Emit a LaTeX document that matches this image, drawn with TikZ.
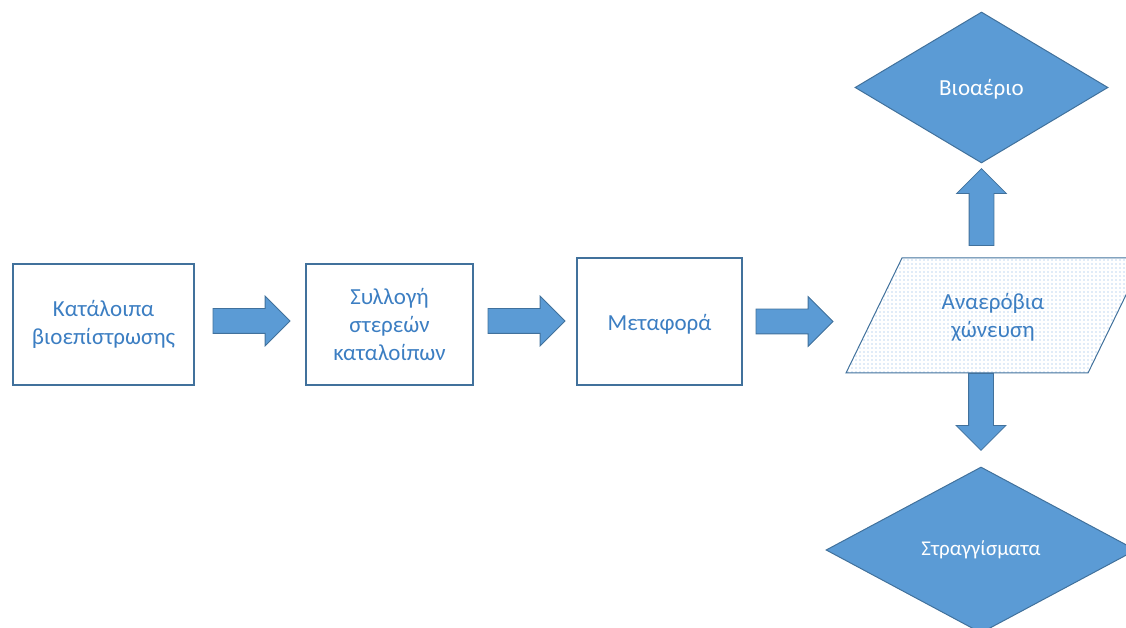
\documentclass[tikz,border=0pt]{standalone}
\usepackage{fontspec}
\setmainfont{Carlito}
\usepackage{tikz}
\usetikzlibrary{shapes.geometric, shapes.arrows, patterns.meta, calc}
\definecolor{boxline}{HTML}{41719C}
\definecolor{boxtext}{HTML}{3C7EC2}
\definecolor{shapefill}{HTML}{5B9BD5}
\definecolor{dotblue}{HTML}{7FAEDF}

\tikzdeclarepattern{
  name=bluedots,
  type=uncolored,
  bounding box={(-1pt,-1pt) and (1pt,1pt)},
  tile size={(4pt,4pt)},
  code={\fill (0pt,0pt) circle (0.7pt);}
}

\begin{document}
\begin{tikzpicture}[x=1pt, y=1pt,
    stage/.style={draw=boxline, line width=1.2pt, text=boxtext, align=center,
        font=\fontsize{23}{28}\selectfont, inner sep=0pt},
    product/.style={diamond, draw=boxline, line width=1pt, fill=shapefill,
        text=white, inner sep=0pt},
    blockarrow/.style={single arrow, draw=boxline, line width=0.8pt, fill=shapefill,
        minimum height=77pt, inner xsep=0pt, inner ysep=12pt,
        single arrow head extend=12.5pt, single arrow tip angle=90, anchor=tail}]
    % Page frame, the lower diamond runs off the edge
    \useasboundingbox (0,0) rectangle (1126,628);
    \clip (0,0) rectangle (1126,628);

    % 1. Process steps
    \node[stage, minimum width=181pt, minimum height=121pt] (resid) at (103.5,303.5)
        {Κατάλοιπα\\βιοεπίστρωσης};
    \node[stage, minimum width=167pt, minimum height=121pt] (collect) at (389.5,303.5)
        {Συλλογή\\στερεών\\καταλοίπων};
    \node[stage, minimum width=165pt, minimum height=127pt] (transp) at (659.5,306.5)
        {\raisebox{-3pt}[\height][\depth]{Μεταφορά}};

    % Digestion step, dotted parallelogram
    \coordinate (digest) at (995,312.5);
    \coordinate (digestbl) at ($(digest)+(-149,-57.5)$);
    \coordinate (digesttop) at ($(digest)+(0,57.5)$);
    \draw[draw=boxline, line width=1pt, pattern=bluedots, pattern color=dotblue]
        (digestbl) -- ++(242,0) -- ++(56,115) -- ++(-242,0) -- cycle;
    \node[text=boxtext, align=center, font=\fontsize{23}{28}\selectfont]
        (digestlabel) at ($(digest)+(-2,-2)$) {Αναερόβια\\χώνευση};

    % 2. Products
    \node[product, minimum width=253pt, minimum height=151pt,
        font=\fontsize{23}{28}\selectfont] (biogas) at (981.5,540.5)
        {\raisebox{-2pt}[\height][\depth]{Βιοαέριο}};
    \node[product, minimum width=310pt, minimum height=166pt,
        font=\fontsize{21}{26}\selectfont] (drain) at (981,78) {Στραγγίσματα};

    % 3. Block arrows between the steps (placed by their tails)
    \node[blockarrow] (arrA) at ($(resid.east)+(18,3.5)$) {};
    \node[blockarrow] (arrB) at ($(collect.east)+(14,3.5)$) {};
    \node[blockarrow] (arrC) at ($(transp.east)+(13,0)$) {};
    \node[blockarrow, rotate=90] (arrUp) at ($(biogas.south |- digesttop)+(0,12)$) {};
    \node[blockarrow, rotate=-90] (arrDown) at (drain.north |- digestbl) {};

\end{tikzpicture}
\end{document}
